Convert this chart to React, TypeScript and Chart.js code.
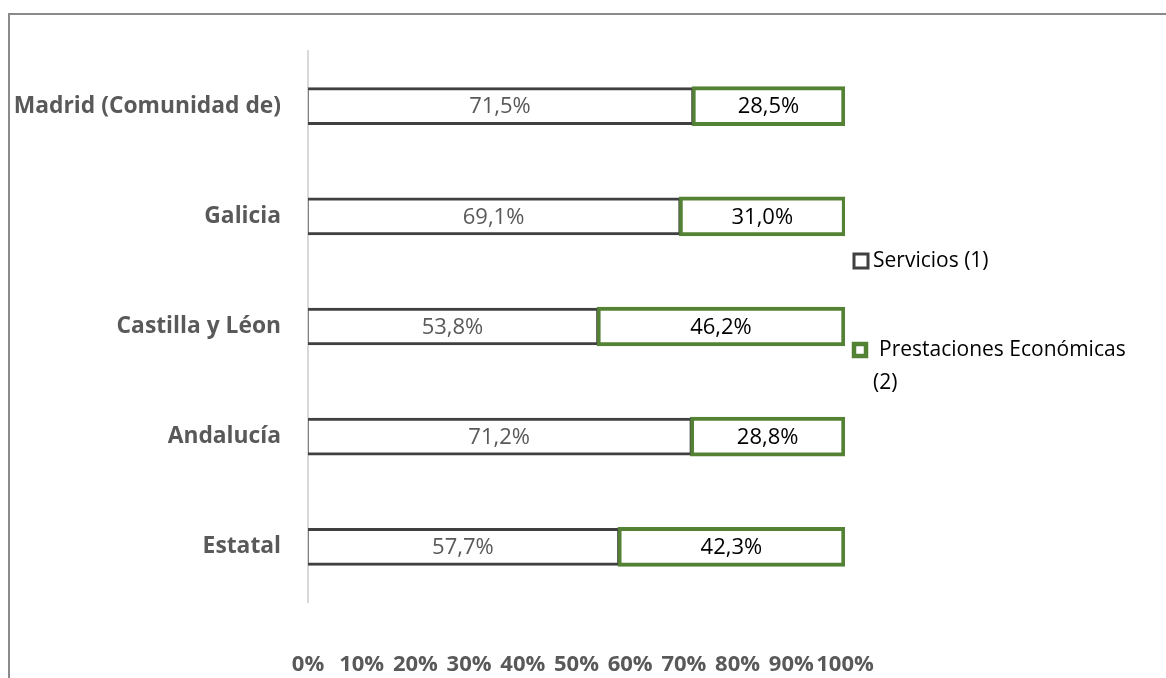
import React, { useEffect, useRef } from "react";
import { Chart, registerables } from "chart.js";

Chart.register(...registerables);

const regions = ["Madrid (Comunidad de)", "Galicia", "Castilla y Léon", "Andalucía", "Estatal"];
const servicios = [71.5, 69.1, 53.8, 71.2, 57.7];
const prestaciones = [28.5, 31.0, 46.2, 28.8, 42.3];
const seriesNames = ["Servicios (1)", "Prestaciones Económicas (2)"];
const tickValues = [0, 10, 20, 30, 40, 50, 60, 70, 80, 90, 100];

const FONT = "'Open Sans', sans-serif";
const DARK = "#404040";
const GREEN = "#548235";

const fmt = (v: number) => v.toFixed(1).replace(".", ",") + "%";

// Outer frame of the chart object
const framePlugin = {
  id: "frame",
  beforeDraw(chart: any) {
    const ctx = chart.ctx;
    ctx.save();
    ctx.strokeStyle = "#8a8a8a";
    ctx.lineWidth = 2;
    ctx.strokeRect(9, 14, chart.width + 20, chart.height + 20);
    ctx.restore();
  },
};

// Percentage labels centred in each segment
const valueLabelPlugin = {
  id: "valueLabels",
  afterDatasetsDraw(chart: any) {
    const ctx = chart.ctx;
    ctx.save();
    ctx.font = `22px ${FONT}`;
    ctx.textAlign = "center";
    ctx.textBaseline = "middle";
    chart.data.datasets.forEach((ds: any, di: number) => {
      const meta = chart.getDatasetMeta(di);
      ctx.fillStyle = di === 0 ? "#595959" : "#000000";
      meta.data.forEach((bar: any, i: number) => {
        const { x, y, base } = bar.getProps(["x", "y", "base"], true);
        ctx.fillText(fmt(ds.data[i]), (x + base) / 2, y + 1);
      });
    });
    ctx.restore();
  },
};

// Legend on the right, wrapped to a fixed width
const sideLegendPlugin = {
  id: "sideLegend",
  afterDraw(chart: any) {
    const ctx = chart.ctx;
    const left = 852;
    const maxW = 262;
    const rowsY = [261, 350];
    ctx.save();
    ctx.font = `21px ${FONT}`;
    ctx.textBaseline = "middle";
    ctx.textAlign = "left";
    chart.data.datasets.forEach((ds: any, di: number) => {
      const cy = rowsY[di];
      const bw = di === 0 ? 3 : 4.5;
      const size = di === 0 ? 14 : 12;
      ctx.strokeStyle = ds.borderColor;
      ctx.lineWidth = bw;
      ctx.fillStyle = "#ffffff";
      ctx.fillRect(left + 2, cy - size / 2, size, size);
      ctx.strokeRect(left + 2, cy - size / 2, size, size);
      // wrap label
      const words = String(ds.label).split(" ");
      const lines: string[] = [];
      let cur = "";
      words.forEach((w) => {
        const t = cur ? cur + " " + w : w;
        if (ctx.measureText(t).width > maxW && cur) {
          lines.push(cur);
          cur = w;
        } else cur = t;
      });
      if (cur) lines.push(cur);
      ctx.fillStyle = "#000000";
      lines.forEach((ln, li) => {
        const tx = li === 0 ? left + (di === 0 ? 21 : 27) : left + 21;
        ctx.fillText(ln, tx, cy + li * 33);
      });
    });
    ctx.restore();
  },
};

export default function App() {
  const ref = useRef<HTMLCanvasElement>(null);
  useEffect(() => {
    if (!ref.current) return;
    const chart = new Chart(ref.current, {
      type: "bar",
      data: {
        labels: regions,
        datasets: [
          {
            label: seriesNames[0],
            data: servicios,
            backgroundColor: "#ffffff",
            borderColor: DARK,
            borderWidth: { top: 3, bottom: 3, left: 1, right: 1 },
            borderSkipped: false,
            barThickness: 37,
          },
          {
            label: seriesNames[1],
            data: prestaciones,
            backgroundColor: "#ffffff",
            borderColor: GREEN,
            borderWidth: 4,
            borderSkipped: false,
            barThickness: 39,
          },
        ],
      },
      options: {
        indexAxis: "y",
        animation: false,
        responsive: false,
        events: [],
        layout: { padding: { left: 0, top: 51, right: 1166 - 845, bottom: 0 } },
        plugins: { legend: { display: false }, tooltip: { enabled: false } },
        scales: {
          x: {
            stacked: true,
            min: 0,
            max: 100,
            afterBuildTicks(scale: any) {
              scale.ticks = tickValues.map((v) => ({ value: v }));
            },
            afterFit(scale: any) {
              scale.height = 678 - 602;
            },
            grid: { display: false, drawTicks: false },
            border: { display: false },
            ticks: {
              autoSkip: false,
              maxRotation: 0,
              padding: 50,
              color: "#595959",
              font: { family: FONT, size: 22, weight: "bold" },
              callback: (v: any) => v + "%",
            },
          },
          y: {
            stacked: true,
            afterFit(scale: any) {
              scale.width = 308;
            },
            grid: { display: false, drawTicks: false },
            border: { display: true, color: "#d9d9d9", width: 2 },
            ticks: {
              padding: 27,
              color: "#595959",
              font: { family: FONT, size: 22.8, weight: "bold" },
            },
          },
        },
      },
      plugins: [framePlugin, valueLabelPlugin, sideLegendPlugin],
    } as any);
    return () => chart.destroy();
  }, []);
  return (
    <div style={{ position: "fixed", left: 0, top: 0, width: 1166, height: 678, background: "#fff" }}>
      <canvas ref={ref} width={1166} height={678} style={{ display: "block" }} />
    </div>
  );
}
